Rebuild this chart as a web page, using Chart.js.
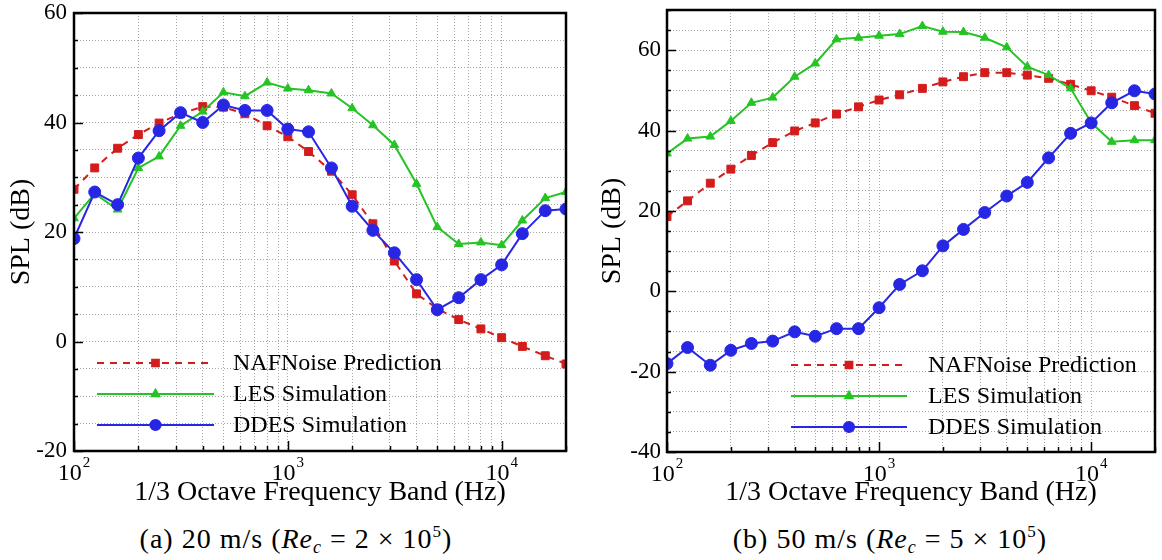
<!DOCTYPE html>
<html>
<head>
<meta charset="utf-8">
<title>SPL spectra</title>
<script src="https://cdn.jsdelivr.net/npm/chart.js@4.4.1/dist/chart.umd.min.js"></script>
<style>
  html, body { margin: 0; padding: 0; background: #fff; }
  #wrap { position: relative; width: 1162px; height: 560px; overflow: hidden; font-family: "Liberation Serif", serif; }
  canvas { position: absolute; top: 0; }
  .cap { position: absolute; top: 523px; font-size: 28px; line-height: 32px; letter-spacing: 1px; text-align: center; color: #000; white-space: nowrap; }
  .cap i { font-style: italic; }
  .cap .op { margin: 0 8px; }
  .cap .sb { font-size: 18px; position: relative; top: 5px; font-style: italic; }
  .cap .sp { font-size: 17px; position: relative; top: -11px; }
</style>
</head>
<body>
<div id="wrap">
  <canvas id="chartA" width="580" height="512" style="left:0"></canvas>
  <canvas id="chartB" width="582" height="512" style="left:580px"></canvas>
  <div class="cap" style="left:96px;width:400px">(a) 20 m/s (<i>Re</i><span class="sb">c</span><span class="op">=</span>2<span class="op">×</span>10<span class="sp">5</span>)</div>
  <div class="cap" style="left:690px;width:400px">(b) 50 m/s (<i>Re</i><span class="sb">c</span><span class="op">=</span>5<span class="op">×</span>10<span class="sp">5</span>)</div>
</div>
<script>
  // 1/3 octave band centre frequencies (Hz)
  const bands = [100, 125, 160, 200, 250, 315, 400, 500, 630, 800, 1000, 1250,
    1600, 2000, 2500, 3150, 4000, 5000, 6300, 8000, 10000, 12500, 16000, 20000];

  // 20 m/s case
  const nafA = [27.8, 31.7, 35.3, 37.8, 39.9, 41.6, 42.9, 42.8, 41.6, 39.4, 37.4, 34.7,
    31.1, 26.8, 21.5, 14.7, 8.7, 6.0, 4.0, 2.3, 0.7, -0.9, -2.6, -4.1];
  const lesA = [22.5, 27.0, 24.1, 31.7, 33.8, 39.4, 42.0, 45.5, 44.8, 47.3, 46.2, 45.9,
    45.3, 42.6, 39.5, 35.9, 28.8, 20.9, 17.8, 18.1, 17.6, 22.1, 26.2, 27.3];
  const ddesA = [18.8, 27.3, 25.0, 33.5, 38.5, 41.8, 40.0, 43.2, 42.2, 42.2, 38.8, 38.3,
    31.7, 24.7, 20.3, 16.2, 11.3, 5.8, 8.0, 11.3, 14.0, 19.7, 23.9, 24.2];

  // 50 m/s case
  const nafB = [18.6, 22.5, 26.9, 30.4, 33.8, 37.0, 39.9, 41.9, 44.1, 45.9, 47.6, 48.9,
    50.5, 52.1, 53.4, 54.4, 54.4, 53.8, 53.0, 51.5, 49.9, 48.3, 46.2, 44.3];
  const lesB = [34.3, 38.0, 38.5, 42.4, 46.9, 48.2, 53.4, 56.7, 62.7, 63.1, 63.6, 64.0,
    66.0, 64.6, 64.5, 63.1, 60.7, 55.9, 53.8, 50.5, 42.0, 37.2, 37.6, 37.6];
  const ddesB = [-18.0, -14.0, -18.4, -14.7, -13.0, -12.4, -10.1, -11.2, -9.3, -9.3, -4.1, 1.7,
    5.1, 11.3, 15.4, 19.6, 23.7, 27.1, 33.2, 39.3, 41.9, 46.9, 49.9, 49.1];

  const seriesNames = ["NAFNoise Prediction", "LES Simulation", "DDES Simulation"];

  // grid positions on the log axis and decade labels
  const xGrid = [100, 200, 300, 400, 500, 600, 700, 800, 900,
    1000, 2000, 3000, 4000, 5000, 6000, 7000, 8000, 9000, 10000, 20000];
  const xDecades = [100, 1000, 10000];

  const FONT = '"Liberation Serif", serif';
  const RED = "#d41c1c", GREEN = "#24c424", BLUE = "#2626e4";

  Chart.defaults.font.family = FONT;
  Chart.defaults.color = "#000";

  function pts(vals) {
    return bands.map((f, i) => ({ x: f, y: vals[i] }));
  }

  function isDecade(v) {
    const l = Math.log10(v);
    return Math.abs(l - Math.round(l)) < 1e-9;
  }

  // frame, inward tick marks and 10^n labels
  const framePlugin = {
    id: "frame",
    afterDraw(chart) {
      const { ctx, chartArea: a, scales: { x, y } } = chart;
      ctx.save();
      ctx.strokeStyle = "#000";
      ctx.lineWidth = 1.5;
      ctx.beginPath();
      y.ticks.forEach((t) => {
        const py = Math.round(y.getPixelForValue(t.value)) + 0.5;
        const len = t.value % 20 === 0 ? 9 : 4;
        ctx.moveTo(a.left, py);
        ctx.lineTo(a.left + len, py);
      });
      x.ticks.forEach((t) => {
        const px = Math.round(x.getPixelForValue(t.value)) + 0.5;
        const len = isDecade(t.value) ? 10 : 5;
        ctx.moveTo(px, a.bottom);
        ctx.lineTo(px, a.bottom - len);
      });
      ctx.stroke();
      ctx.lineWidth = 2.5;
      ctx.strokeRect(a.left, a.top, a.right - a.left, a.bottom - a.top);

      ctx.fillStyle = "#000";
      ctx.textBaseline = "alphabetic";
      ctx.textAlign = "left";
      xDecades.forEach((v) => {
        const px = x.getPixelForValue(v);
        const exp = String(Math.round(Math.log10(v)));
        ctx.font = "24px " + FONT;
        const w1 = ctx.measureText("10").width;
        ctx.font = "15px " + FONT;
        const w2 = ctx.measureText(exp).width;
        const x0 = px - (w1 + w2 + 1) / 2;
        ctx.font = "24px " + FONT;
        ctx.fillText("10", x0, a.bottom + 29);
        ctx.font = "15px " + FONT;
        ctx.fillText(exp, x0 + w1 + 1, a.bottom + 16);
      });
      ctx.restore();
    }
  };

  // legend drawn inside the plot area: line, centred marker, label
  const legendPlugin = {
    id: "inlineLegend",
    afterDatasetsDraw(chart, args, opts) {
      const { ctx, chartArea: a } = chart;
      ctx.save();
      opts.order.forEach((idx, row) => {
        const ds = chart.data.datasets[idx];
        const y = a.top + opts.y0 + row * opts.dy;
        const x1 = a.left + opts.x0, x2 = a.left + opts.x1;
        ctx.strokeStyle = ds.borderColor;
        ctx.fillStyle = ds.backgroundColor;
        ctx.lineWidth = ds.borderWidth;
        ctx.setLineDash(ds.borderDash || []);
        ctx.beginPath();
        ctx.moveTo(x1, y);
        ctx.lineTo(x2, y);
        ctx.stroke();
        ctx.setLineDash([]);
        Chart.helpers.drawPoint(ctx, {
          pointStyle: ds.pointStyle,
          radius: ds.pointRadius * 0.85,
          rotation: 0,
          borderWidth: 1
        }, (x1 + x2) / 2, y);
        ctx.fillStyle = "#000";
        ctx.font = "24px " + FONT;
        ctx.textBaseline = "middle";
        ctx.textAlign = "left";
        ctx.fillText(ds.label, a.left + opts.tx, y + 1);
      });
      ctx.restore();
    }
  };

  function makeChart(id, naf, les, ddes, cfg) {
    return new Chart(document.getElementById(id), {
      type: "line",
      data: {
        datasets: [
          {
            label: seriesNames[0], data: pts(naf), order: 2,
            borderColor: RED, backgroundColor: RED, borderWidth: 2, borderDash: [7, 6],
            pointStyle: "rect", pointRadius: 5.6, pointBorderWidth: 1
          },
          {
            label: seriesNames[1], data: pts(les), order: 1,
            borderColor: GREEN, backgroundColor: GREEN, borderWidth: 2,
            pointStyle: "triangle", pointRadius: 5, pointBorderWidth: 1
          },
          {
            label: seriesNames[2], data: pts(ddes), order: 0,
            borderColor: BLUE, backgroundColor: BLUE, borderWidth: 2,
            pointStyle: "circle", pointRadius: 6, pointBorderWidth: 1
          }
        ]
      },
      options: {
        responsive: false,
        animation: false,
        layout: { padding: cfg.padding },
        plugins: {
          legend: { display: false },
          tooltip: { enabled: false },
          inlineLegend: Object.assign({ order: [0, 1, 2] }, cfg.legend)
        },
        scales: {
          x: {
            type: "logarithmic",
            min: 100,
            max: 20000,
            afterBuildTicks: (s) => { s.ticks = xGrid.map((v) => ({ value: v })); },
            afterFit: (s) => { s.height = cfg.xHeight; s.paddingLeft = 0; s.paddingRight = 0; },
            ticks: { display: false },
            grid: { color: "#a8a8a8", lineWidth: 1, drawTicks: false },
            border: { display: false, dash: [1, 2] },
            title: {
              display: true,
              text: "1/3 Octave Frequency Band (Hz)",
              font: { size: 28, lineHeight: 1 },
              padding: { top: 0, bottom: 5 }
            }
          },
          y: {
            min: cfg.yMin,
            max: cfg.yMax,
            afterFit: (s) => { s.width = cfg.yWidth; s.paddingTop = 0; s.paddingBottom = 0; },
            ticks: {
              stepSize: 5,
              autoSkip: false,
              padding: cfg.tickPad,
              font: { size: 23 },
              callback: (v) => (v % 20 === 0 ? String(v) : "")
            },
            grid: { color: "#a8a8a8", lineWidth: 1, drawTicks: false },
            border: { display: false, dash: [1, 2] },
            title: {
              display: true,
              text: "SPL (dB)",
              font: { size: 28, lineHeight: 1 },
              padding: { top: cfg.titlePad, bottom: 0 }
            }
          }
        }
      },
      plugins: [legendPlugin, framePlugin]
    });
  }

  function drawAll() {
    makeChart("chartA", nafA, lesA, ddesA, {
      padding: { top: 13, right: 14, left: 0, bottom: 0 },
      xHeight: 61, yWidth: 74, tickPad: 7, titlePad: 8,
      yMin: -20, yMax: 60,
      legend: { x0: 23, x1: 140, tx: 159, y0: 350, dy: 31 }
    });

    makeChart("chartB", nafB, lesB, ddesB, {
      padding: { top: 10, right: 2, left: 0, bottom: 0 },
      xHeight: 60, yWidth: 87, tickPad: 6, titlePad: 19,
      yMin: -40, yMax: 70,
      legend: { x0: 124, x1: 240, tx: 261, y0: 355, dy: 31 }
    });
  }

  // make sure the serif face is ready before canvas text is drawn
  const faces = ["15px", "23px", "24px", "28px"].map((s) => document.fonts.load(s + " " + FONT));
  Promise.all(faces).then(drawAll, drawAll);
</script>
</body>
</html>
